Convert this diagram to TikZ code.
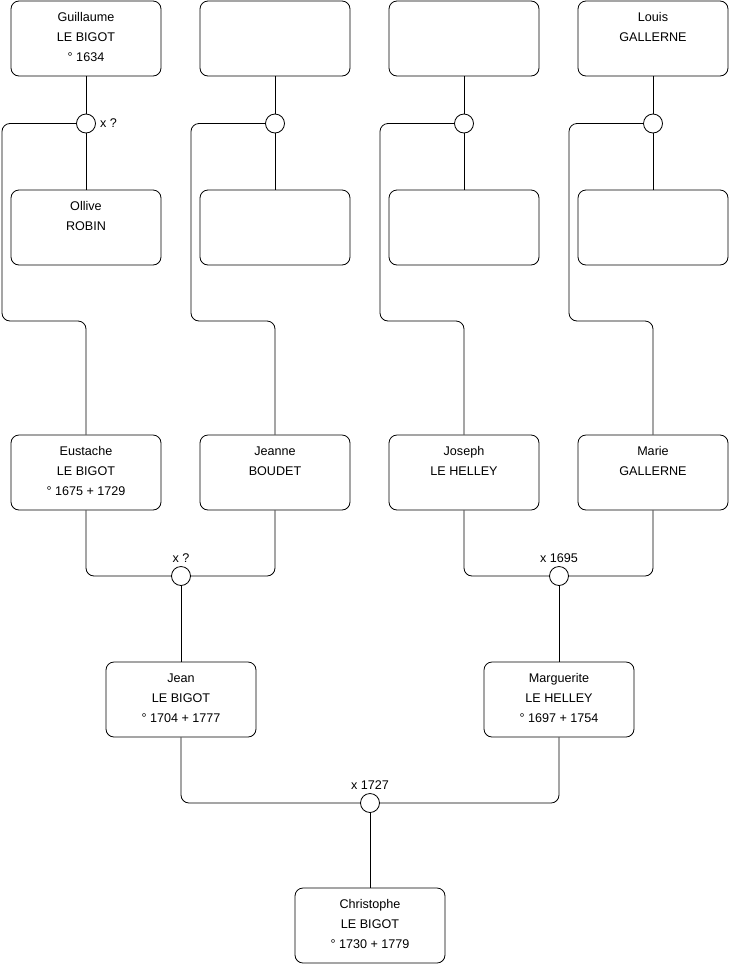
\documentclass[tikz,border=0pt]{standalone}
\usepackage{fontspec}
\setmainfont{Liberation Sans}
\newcommand\ptxt[3]{\begin{tabular}{@{}c@{}}\strut#1\\\strut#2\\\strut#3\rule[-9pt]{0pt}{1pt}\end{tabular}}
\begin{document}
\begin{tikzpicture}[x=1pt,y=-1pt,
  person/.style={draw, rounded corners=8pt, minimum width=150pt, minimum height=75pt, align=center, font=\fontsize{12.6pt}{20pt}\selectfont, line width=0.8pt, inner sep=0pt},
  wed/.style={draw, circle, minimum size=19pt, inner sep=0pt, fill=white, line width=0.8pt},
  conn/.style={line width=0.8pt, rounded corners=8pt},
  lab/.style={font=\fontsize{12.6pt}{15pt}\selectfont, inner sep=0pt}]
\useasboundingbox (0,0) rectangle (740,975);
% top row
\node[person] (g) at (86,38.5) {\ptxt{Guillaume}{LE BIGOT}{° 1634}};
\node[person] (t2) at (275,38.5) {};
\node[person] (t3) at (464,38.5) {};
\node[person] (l) at (653,38.5) {\ptxt{Louis}{GALLERNE}{}};
% second row
\node[person] (o) at (86,227.5) {\ptxt{Ollive}{ROBIN}{}};
\node[person] (s2) at (275,227.5) {};
\node[person] (s3) at (464,227.5) {};
\node[person] (s4) at (653,227.5) {};
% third row
\node[person] (eu) at (86,472.5) {\ptxt{Eustache}{LE BIGOT}{° 1675 + 1729}};
\node[person] (je) at (275,472.5) {\ptxt{Jeanne}{BOUDET}{}};
\node[person] (jo) at (464,472.5) {\ptxt{Joseph}{LE HELLEY}{}};
\node[person] (ma) at (653,472.5) {\ptxt{Marie}{GALLERNE}{}};
% fourth row
\node[person] (jean) at (181,699.5) {\ptxt{Jean}{LE BIGOT}{° 1704 + 1777}};
\node[person] (mg) at (559,699.5) {\ptxt{Marguerite}{LE HELLEY}{° 1697 + 1754}};
% fifth
\node[person] (ch) at (370,925.5) {\ptxt{Christophe}{LE BIGOT}{° 1730 + 1779}};
% couple positions
\coordinate (w1) at (86,123.5);
\coordinate (w2) at (275,123.5);
\coordinate (w3) at (464,123.5);
\coordinate (w4) at (653,123.5);
\coordinate (w5) at (181,576);
\coordinate (w6) at (559,576);
\coordinate (w7) at (370,803);
% lines
\draw[conn] (g.south) -- (o.north);
\draw[conn] (t2.south) -- (s2.north);
\draw[conn] (t3.south) -- (s3.north);
\draw[conn] (l.south) -- (s4.north);
\draw[conn] (w1) -- (2,123.5) -- (2,321) -- (86,321) -- (eu.north);
\draw[conn] (w2) -- (191,123.5) -- (191,321) -- (275,321) -- (je.north);
\draw[conn] (w3) -- (380,123.5) -- (380,321) -- (464,321) -- (jo.north);
\draw[conn] (w4) -- (569,123.5) -- (569,321) -- (653,321) -- (ma.north);
\draw[conn] (eu.south) |- (w5);
\draw[conn] (je.south) |- (w5);
\draw[conn] (w5) -- (jean.north);
\draw[conn] (jo.south) |- (w6);
\draw[conn] (ma.south) |- (w6);
\draw[conn] (w6) -- (mg.north);
\draw[conn] (jean.south) |- (w7);
\draw[conn] (mg.south) |- (w7);
\draw[conn] (w7) -- (ch.north);
% circles on top
\node[wed] (m1) at (w1) {};
\node[wed] (m2) at (w2) {};
\node[wed] (m3) at (w3) {};
\node[wed] (m4) at (w4) {};
\node[wed] (m5) at (w5) {};
\node[wed] (m6) at (w6) {};
\node[wed] (m7) at (w7) {};
% labels
\node[lab, anchor=west] (lb1) at ([xshift=4pt]m1.east) {x ?};
\node[lab] (lb5) at ([yshift=18pt]m5.center) {x ?};
\node[lab] (lb6) at ([yshift=18pt]m6.center) {x 1695};
\node[lab] (lb7) at ([yshift=18pt]m7.center) {x 1727};
\end{tikzpicture}
\end{document}
